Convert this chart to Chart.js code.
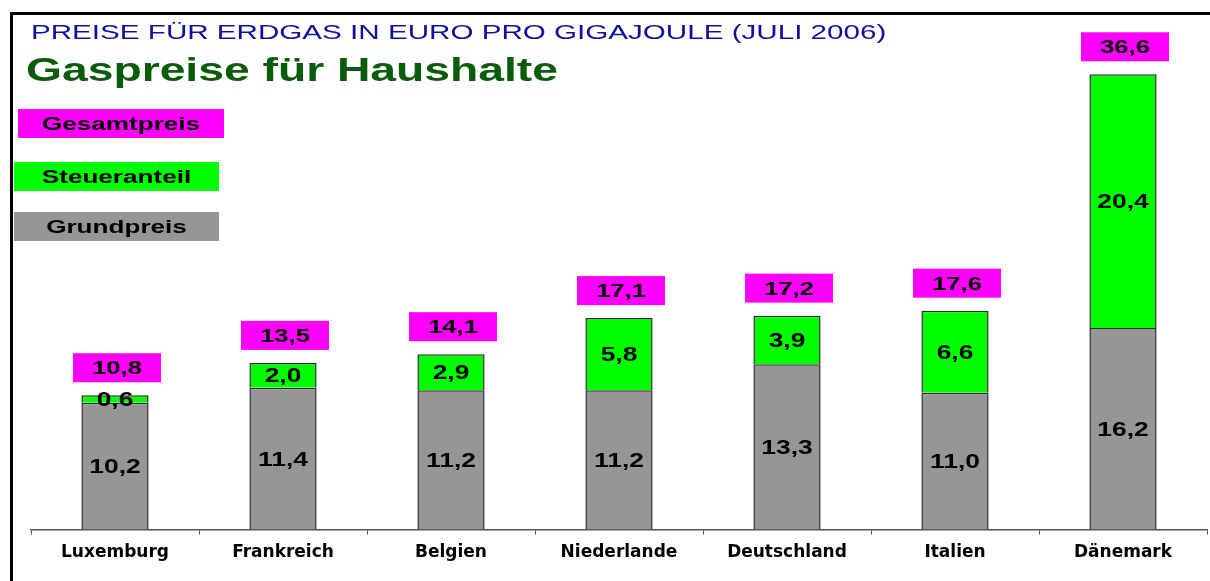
<!DOCTYPE html>
<html lang="de">
<head>
<meta charset="utf-8">
<title>Gaspreise für Haushalte</title>
<script src="https://cdn.jsdelivr.net/npm/chart.js@4.4.1/dist/chart.umd.min.js"></script>
<style>
    html, body { margin: 0; padding: 0; background: #fff; }
    #wrap { width: 1210px; height: 581px; }
</style>
</head>
<body>
<div id="wrap"><canvas id="gasChart" width="1210" height="581"></canvas></div>
<script>
// Daten (Euro pro Gigajoule, Juli 2006)
const laender = ['Luxemburg', 'Frankreich', 'Belgien', 'Niederlande', 'Deutschland', 'Italien', 'Dänemark'];
const grundpreis = [10.2, 11.4, 11.2, 11.2, 13.3, 11.0, 16.2];
const steueranteil = [0.6, 2.0, 2.9, 5.8, 3.9, 6.6, 20.4];
const gesamtpreis = [10.8, 13.5, 14.1, 17.1, 17.2, 17.6, 36.6];
const reihen = ['Gesamtpreis', 'Steueranteil', 'Grundpreis'];
const titel = 'PREISE FÜR ERDGAS IN EURO PRO GIGAJOULE (JULI 2006)';
const untertitel = 'Gaspreise für Haushalte';

const farben = {
    grund: '#969696',
    steuer: '#00ff00',
    gesamt: '#ff00ff',
    rand: '#2a2a2a',
    titel: '#10109a',
    untertitel: '#0a5c0a'
};

const schrift = 'Liberation Sans, Arial, sans-serif';

function zahl(v) {
    return v.toFixed(1).replace('.', ',');
}

// Text leicht in die Breite gezogen, wie im Original
function breitText(ctx, text, x, y, font, color, sx, align) {
    ctx.save();
    ctx.font = font;
    ctx.fillStyle = color;
    ctx.textAlign = align || 'center';
    ctx.textBaseline = 'alphabetic';
    ctx.translate(x, y);
    ctx.scale(sx, 1);
    ctx.fillText(text, 0, 0);
    ctx.restore();
}

const dekoration = {
    id: 'dekoration',
    beforeDraw(chart) {
        const ctx = chart.ctx;
        ctx.save();
        ctx.fillStyle = '#fff';
        ctx.fillRect(0, 0, chart.width, chart.height);
        // Rahmen oben und links
        ctx.fillStyle = '#000';
        ctx.fillRect(10, 12, chart.width - 10, 3);
        ctx.fillRect(10, 12, 3, chart.height - 12);
        ctx.restore();
    },
    afterDatasetsDraw(chart) {
        const ctx = chart.ctx;
        const metaGrund = chart.getDatasetMeta(0);
        const metaSteuer = chart.getDatasetMeta(1);

        // Werte in den Segmenten
        [metaGrund, metaSteuer].forEach(function(meta, i) {
            const werte = i === 0 ? grundpreis : steueranteil;
            meta.data.forEach(function(bar, j) {
                const mitte = (bar.y + bar.base) / 2;
                breitText(ctx, zahl(werte[j]), bar.x, mitte + 7, 'bold 20px ' + schrift, '#000', 1.32);
            });
        });

        // Gesamtpreis-Kästchen über dem Balken
        metaSteuer.data.forEach(function(bar, j) {
            const unten = bar.y - 13;
            ctx.fillStyle = farben.gesamt;
            ctx.fillRect(bar.x - 42, unten - 29, 88, 29);
            breitText(ctx, zahl(gesamtpreis[j]), bar.x + 2, unten - 8, 'bold 18px ' + schrift, '#000', 1.42);
        });
    },
    afterDraw(chart) {
        const ctx = chart.ctx;
        breitText(ctx, titel, 31, 39, '20px ' + schrift, farben.titel, 1.48, 'left');
        breitText(ctx, untertitel, 26, 81, 'bold 34px ' + schrift, farben.untertitel, 1.36, 'left');

        // Legende als farbige Kästchen
        const boxen = [
            { x: 18, y: 109, w: 206, farbe: farben.gesamt },
            { x: 14, y: 162, w: 205, farbe: farben.steuer },
            { x: 14, y: 212, w: 205, farbe: farben.grund }
        ];
        boxen.forEach(function(b, i) {
            ctx.fillStyle = b.farbe;
            ctx.fillRect(b.x, b.y, b.w, 29);
            breitText(ctx, reihen[i], b.x + b.w / 2, b.y + 21, 'bold 18px ' + schrift, '#000', 1.45);
        });
    }
};

new Chart(document.getElementById('gasChart'), {
    type: 'bar',
    data: {
        labels: laender,
        datasets: [{
            label: 'Grundpreis',
            data: grundpreis,
            backgroundColor: farben.grund,
            borderColor: farben.rand,
            borderWidth: 1.5
        }, {
            label: 'Steueranteil',
            data: steueranteil,
            backgroundColor: farben.steuer,
            borderColor: farben.rand,
            borderWidth: 1.5
        }]
    },
    options: {
        responsive: false,
        animation: false,
        categoryPercentage: 1,
        barPercentage: 0.4,
        layout: {
            padding: { top: 32, left: 31, right: 3, bottom: 10 }
        },
        plugins: {
            legend: { display: false },
            tooltip: { enabled: false }
        },
        scales: {
            x: {
                stacked: true,
                grid: {
                    offset: true,
                    drawOnChartArea: false,
                    drawTicks: true,
                    tickLength: 5,
                    color: '#555'
                },
                border: { display: true, color: '#555', width: 1.5 },
                ticks: {
                    color: '#000',
                    padding: 8,
                    font: { family: 'DejaVu Sans', weight: 'bold', size: 17 }
                }
            },
            y: {
                stacked: true,
                display: false,
                min: 0,
                max: 40
            }
        }
    },
    plugins: [dekoration]
});
</script>
</body>
</html>
